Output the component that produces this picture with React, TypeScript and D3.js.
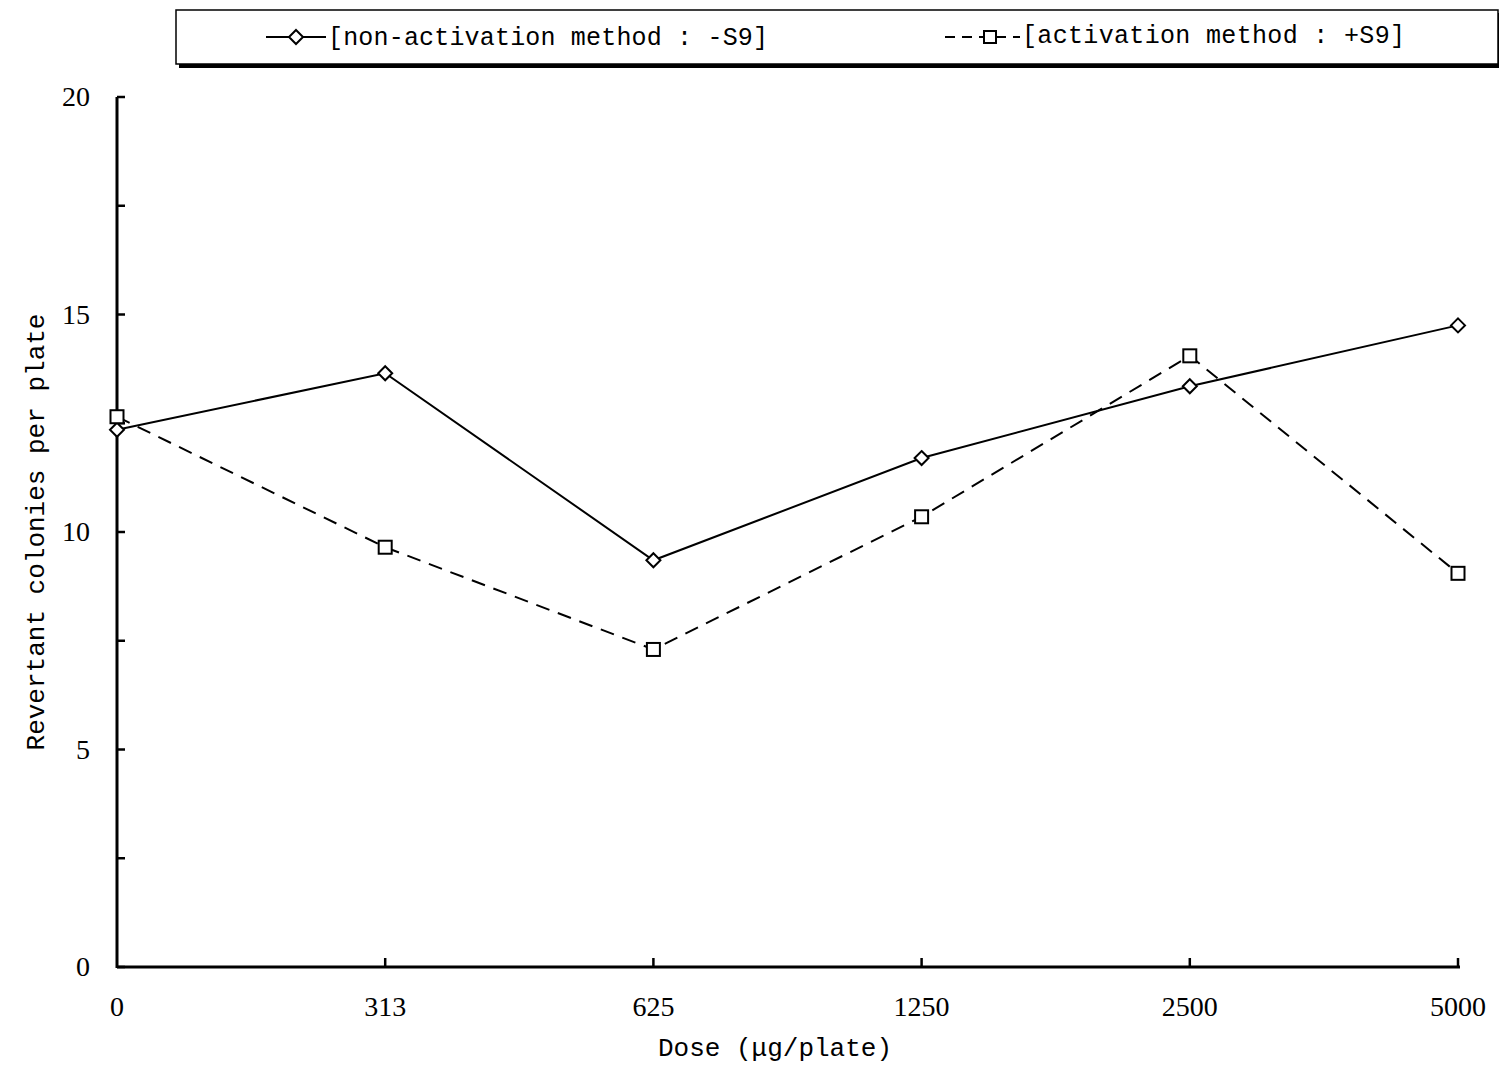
import React, { useEffect, useRef } from 'react';
import * as d3 from 'd3';

const doses = ['0', '313', '625', '1250', '2500', '5000'];
const withoutS9 = [12.35, 13.65, 9.35, 11.7, 13.35, 14.75];
const withS9 = [12.65, 9.65, 7.3, 10.35, 14.05, 9.05];
const yTicks = [0, 5, 10, 15, 20];
const yMinorTicks = [2.5, 7.5, 12.5, 17.5];

const width = 1499;
const height = 1067;

const App: React.FC = () => {
  const svgRef = useRef<SVGSVGElement>(null);

  useEffect(() => {
    if (!svgRef.current) return;
    const svg = d3.select(svgRef.current);
    svg.selectAll('*').remove();

    const serif = '"Liberation Serif", "DejaVu Serif", serif';
    const mono = '"Liberation Mono", "DejaVu Sans Mono", monospace';

    const x = d3.scalePoint<string>().domain(doses).range([117, 1458]);
    const y = d3.scaleLinear().domain([0, 20]).range([967, 97]);

    // axes
    const axis = svg.append('g').attr('stroke', '#000').attr('stroke-width', 3);
    axis.append('line')
      .attr('x1', x('0')!).attr('x2', x('0')!)
      .attr('y1', y(20)).attr('y2', y(0) + 1);
    axis.append('line')
      .attr('x1', x('0')!).attr('x2', x('5000')! + 2)
      .attr('y1', y(0)).attr('y2', y(0));

    // y ticks pointing inward
    axis.selectAll('line.yt')
      .data([...yTicks, ...yMinorTicks])
      .enter()
      .append('line')
      .attr('x1', x('0')!)
      .attr('x2', x('0')! + 8)
      .attr('y1', d => y(d))
      .attr('y2', d => y(d))
      .attr('stroke-width', 2.5);

    // x ticks pointing up
    axis.selectAll('line.xt')
      .data(doses.slice(1))
      .enter()
      .append('line')
      .attr('x1', d => x(d)!)
      .attr('x2', d => x(d)!)
      .attr('y1', y(0))
      .attr('y2', y(0) - 9)
      .attr('stroke-width', 2.5);

    svg.selectAll('text.ytl')
      .data(yTicks)
      .enter()
      .append('text')
      .attr('x', 90)
      .attr('y', d => y(d) + 9)
      .attr('text-anchor', 'end')
      .attr('font-family', serif)
      .attr('font-size', 28)
      .text(d => d);

    svg.selectAll('text.xtl')
      .data(doses)
      .enter()
      .append('text')
      .attr('x', d => x(d)!)
      .attr('y', 1016)
      .attr('text-anchor', 'middle')
      .attr('font-family', serif)
      .attr('font-size', 28)
      .text(d => d);

    svg.append('text')
      .attr('x', 775)
      .attr('y', 1056)
      .attr('text-anchor', 'middle')
      .attr('font-family', mono)
      .attr('font-size', 26)
      .text('Dose (\u03bcg/plate)');

    svg.append('text')
      .attr('transform', 'rotate(-90)')
      .attr('x', -532)
      .attr('y', 44)
      .attr('text-anchor', 'middle')
      .attr('font-family', mono)
      .attr('font-size', 26)
      .text('Revertant colonies per plate');

    const line = d3.line<number>()
      .x((_, i) => x(doses[i])!)
      .y(d => y(d));

    svg.append('path')
      .datum(withoutS9)
      .attr('d', line)
      .attr('fill', 'none')
      .attr('stroke', '#000')
      .attr('stroke-width', 2);

    svg.append('path')
      .datum(withS9)
      .attr('d', line)
      .attr('fill', 'none')
      .attr('stroke', '#000')
      .attr('stroke-width', 2)
      .attr('stroke-dasharray', '14,9');

    const diamond = (cx: number, cy: number) =>
      `M${cx},${cy - 7}L${cx + 7},${cy}L${cx},${cy + 7}L${cx - 7},${cy}Z`;

    svg.selectAll('path.dm')
      .data(withoutS9)
      .enter()
      .append('path')
      .attr('d', (d, i) => diamond(x(doses[i])!, y(d)))
      .attr('fill', '#fff')
      .attr('stroke', '#000')
      .attr('stroke-width', 2);

    svg.selectAll('rect.sq')
      .data(withS9)
      .enter()
      .append('rect')
      .attr('x', (d, i) => x(doses[i])! - 6.5)
      .attr('y', d => y(d) - 6.5)
      .attr('width', 13)
      .attr('height', 13)
      .attr('fill', '#fff')
      .attr('stroke', '#000')
      .attr('stroke-width', 2);

    // legend
    const lg = svg.append('g');
    lg.append('rect')
      .attr('x', 179).attr('y', 13).attr('width', 1322).attr('height', 55)
      .attr('fill', '#000');
    lg.append('rect')
      .attr('x', 176).attr('y', 10).attr('width', 1322).attr('height', 54)
      .attr('fill', '#fff').attr('stroke', '#000').attr('stroke-width', 1.5);

    lg.append('line')
      .attr('x1', 266).attr('x2', 326).attr('y1', 37).attr('y2', 37)
      .attr('stroke', '#000').attr('stroke-width', 2);
    lg.append('path')
      .attr('d', diamond(296, 37))
      .attr('fill', '#fff').attr('stroke', '#000').attr('stroke-width', 2);
    lg.append('text')
      .attr('x', 328).attr('y', 45)
      .attr('font-family', mono).attr('font-size', 25)
      .attr('textLength', 440)
      .text('[non-activation method : -S9]');

    lg.append('line')
      .attr('x1', 945).attr('x2', 1020).attr('y1', 37).attr('y2', 37)
      .attr('stroke', '#000').attr('stroke-width', 2)
      .attr('stroke-dasharray', '10,7');
    lg.append('rect')
      .attr('x', 984).attr('y', 31).attr('width', 12).attr('height', 12)
      .attr('fill', '#fff').attr('stroke', '#000').attr('stroke-width', 2);
    lg.append('text')
      .attr('x', 1022).attr('y', 43)
      .attr('font-family', mono).attr('font-size', 25)
      .attr('textLength', 383)
      .text('[activation method : +S9]');
  }, []);

  return <svg ref={svgRef} width={width} height={height} style={{ display: 'block', position: 'absolute', left: 0, top: 0 }} />;
};

export default App;
